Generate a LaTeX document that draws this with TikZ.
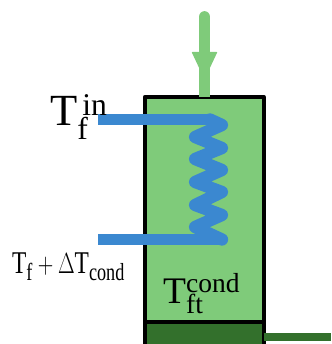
\documentclass[tikz,border=0pt]{standalone}
\usepackage{fontspec}
\setmainfont{Liberation Serif}
\usepackage{xcolor}
\usetikzlibrary{arrows.meta,positioning}
\DeclareMathSizes{38}{38}{27}{20}
\DeclareMathSizes{32}{32}{23.5}{18}
\DeclareMathSizes{27}{27}{21}{16}
\definecolor{tankgreen}{HTML}{7FCB7A}
\definecolor{darkgreen}{HTML}{33702C}
\definecolor{coilblue}{HTML}{3B88D0}
\tikzset{
    tankbox/.style={draw=black,line width=3.4pt,line join=round},
    coilline/.style={draw=coilblue,line width=10.5pt,line join=round,line cap=round},
    pipeline/.style={draw=coilblue,line width=9.6pt},
    templabel/.style={anchor=base west,inner sep=0pt}
}
\begin{document}
\begin{tikzpicture}[x=0.03cm,y=-0.03cm]
    \useasboundingbox (0,0) rectangle (331,344);
    \clip (0,0) rectangle (331,344);
    % tank
    \draw[tankbox,fill=tankgreen] (144.7,97) rectangle (263.7,360);
    \draw[tankbox,fill=darkgreen] (144.7,322) rectangle (263.7,360);
    \coordinate (outletstart) at (263.7,337);
    \coordinate (outletend) at (331,337);
    \draw[draw=darkgreen,line width=6.8pt] (outletstart) -- (outletend);
    % inlet arrow
    \coordinate (feedtop) at (204.5,17);
    \coordinate (feedbottom) at (204.5,97);
    \draw[draw=tankgreen,line width=10pt,line cap=round] (feedtop) -- (204.5,60);
    \draw[draw=tankgreen,line width=10pt] (204.5,60) -- (feedbottom);
    \fill[tankgreen,draw=tankgreen,line width=1pt,line join=round] (192.5,52.5) -- (216.5,52.5) -- (204.5,78) -- cycle;
    % coil
    \coordinate (pipein) at (98,119.5);
    \coordinate (pipeout) at (98,239.5);
    \draw[pipeline] (pipein) -- (210,119.5);
    \draw[pipeline] (pipeout) -- (222,239.5);
    \draw[coilline] (210,119.5) -- (222,125)
        \foreach \ya/\yb in {137/148,159/170,182/192,205/215}{ -- (195,\ya) -- (222,\yb) }
        -- (195,227) -- (222,239.5);
    % labels
    \node[templabel,font=\fontsize{38}{38}\selectfont] (tfin) at (50,126) {$\mathrm{T}_{\mathrm{f}}^{\,\mathrm{in}}$};
    \node[templabel,font=\fontsize{27}{27}\selectfont,xscale=0.74,transform shape] (tfout) at (12,273) {$\mathrm{T}_{\mathrm{f}}+\Delta\mathrm{T}_{\mathrm{cond}}$};
    \node[templabel,font=\fontsize{32}{32}\selectfont] (tft) at (163,303) {$\mathrm{T}_{\mathrm{ft}}^{\mathrm{cond}}$};
\end{tikzpicture}
\end{document}
